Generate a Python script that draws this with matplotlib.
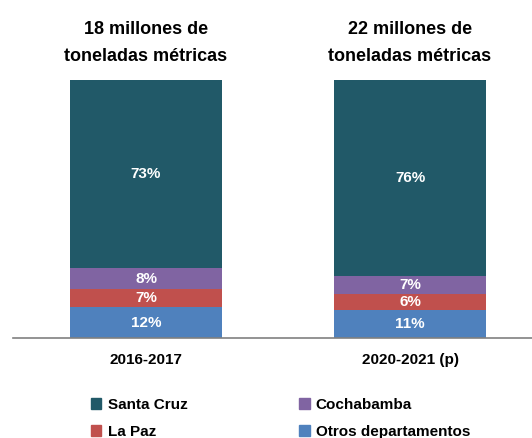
import matplotlib
matplotlib.use("Agg")
from matplotlib import pyplot as plt
from matplotlib.patches import Patch

plt.rcParams['font.family'] = ['Liberation Sans Narrow', 'Liberation Sans', 'DejaVu Sans']

# data
periodos = ['2016-2017', '2020-2021 (p)']
titulos = ['18 millones de\ntoneladas métricas', '22 millones de\ntoneladas métricas']
series = ['Otros departamentos', 'La Paz', 'Cochabamba', 'Santa Cruz']
otros = [12, 11]
la_paz = [7, 6]
cochabamba = [8, 7]
santa_cruz = [73, 76]
colores = ['#4F81BD', '#C0504D', '#8064A2', '#215968']

fig = plt.figure(figsize=(5.32, 4.38), dpi=100)
ax = fig.add_axes([13/532, 100/438, 519/532, 258/438])

x = [0, 1]
bottom = [0, 0]
for nombre, vals, col in zip(series, [otros, la_paz, cochabamba, santa_cruz], colores):
    bars = ax.bar(x, vals, 0.576, bottom=bottom, color=col, label=nombre)
    for xi, b, v in zip(x, bottom, vals):
        ax.text(xi, b + v / 2, f'{v}%', ha='center', va='center',
                color='white', fontsize=11, fontweight='bold')
    bottom = [b + v for b, v in zip(bottom, vals)]

ax.set_xlim(-0.504, 1.462)
ax.set_ylim(0, 100)
for s in ['top', 'right', 'left']:
    ax.spines[s].set_visible(False)
ax.spines['bottom'].set_color('#808080')
ax.spines['bottom'].set_linewidth(1.2)
ax.set_yticks([])
ax.set_xticks(x)
ax.set_xticklabels(periodos, fontsize=11, fontweight='bold')
ax.tick_params(axis='x', length=0, pad=11)

for xi, t in zip(x, titulos):
    ax.text(xi, 105.7, t, ha='center', va='bottom', fontsize=13,
            fontweight='bold', linespacing=1.78)

handles = [Patch(color=colores[3]), Patch(color=colores[1]),
           Patch(color=colores[2]), Patch(color=colores[0])]
labels = ['Santa Cruz', 'La Paz', 'Cochabamba', 'Otros departamentos']
fig.legend(handles, labels, ncol=2, loc='lower left', bbox_to_anchor=(77/532, -0.034),
           frameon=False, prop={'size': 11, 'weight': 'bold'},
           handlelength=0.7, handleheight=0.7, handletextpad=0.4,
           columnspacing=7.3, labelspacing=0.85)

fig.savefig('out.png', dpi=100)
